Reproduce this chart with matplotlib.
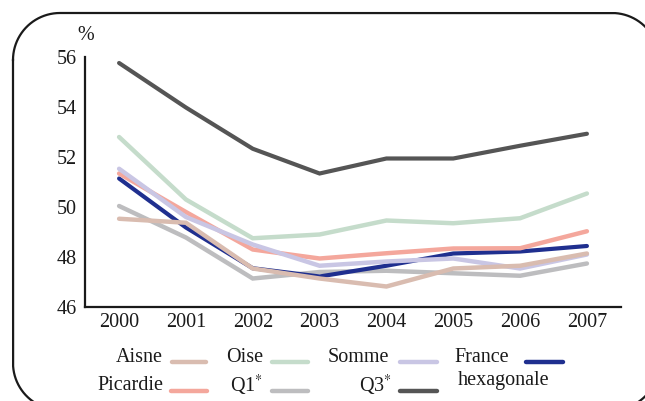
import matplotlib
matplotlib.use("Agg")
import numpy as np
import matplotlib.pyplot as plt
from matplotlib.lines import Line2D

plt.rcParams['font.family'] = ['Liberation Serif', 'DejaVu Serif']
plt.rcParams['mathtext.fontset'] = 'stix'
plt.rcParams['savefig.bbox'] = 'standard'

years = [2000, 2001, 2002, 2003, 2004, 2005, 2006, 2007]
q1 = [50.04, 48.78, 47.14, 47.40, 47.45, 47.35, 47.25, 47.74]
q3 = [55.76, 53.98, 52.33, 51.34, 51.94, 51.94, 52.45, 52.93]
oise = [52.80, 50.30, 48.75, 48.90, 49.46, 49.35, 49.55, 50.54]
france = [51.14, 49.18, 47.55, 47.22, 47.65, 48.14, 48.22, 48.44]
picardie = [51.34, 49.80, 48.30, 47.94, 48.15, 48.34, 48.35, 49.03]
somme = [51.53, 49.60, 48.50, 47.65, 47.82, 47.94, 47.54, 48.10]
aisne = [49.53, 49.37, 47.54, 47.14, 46.82, 47.54, 47.65, 48.14]

yticks = [46, 48, 50, 52, 54, 56]

c_q1 = '#bdbdbf'
c_q3 = '#555555'
c_oise = '#c5dccb'
c_france = '#1f2f8f'
c_picardie = '#f4a79c'
c_somme = '#c9c6e4'
c_aisne = '#d9bcb0'

W, H = 645, 401
fig = plt.figure(figsize=(W / 100, H / 100), dpi=100)

def fx(px):
    return np.asarray(px, dtype=float) / W

def fy(py):
    return 1 - np.asarray(py, dtype=float) / H

# rounded frame built in pixel space (y down); only the visible pieces are drawn
L, T, R, B, r = 13, 13, 659, 410, 47

def arc(cx, cy, a0, a1):
    a = np.radians(np.linspace(a0, a1, 300))
    x = cx + r * np.cos(a)
    y = cy + r * np.sin(a)
    keep = (x <= W + 1) & (y <= H + 1)
    return x[keep], y[keep]

pieces = []
x1, y1 = arc(L + r, T + r, 180, 270)
x2, y2 = arc(R - r, T + r, 270, 360)
pieces.append((np.concatenate([x1, x2]), np.concatenate([y1, y2])))
x3, y3 = arc(L + r, B - r, 180, 90)
pieces.append((np.concatenate([[L], x3]), np.concatenate([[T + r], y3])))
x4, y4 = arc(R - r, B - r, 0, 90)
if len(x4):
    pieces.append((x4, y4))
for xs, ys in pieces:
    ln = Line2D(fx(xs), fy(ys), transform=fig.transFigure,
                color='#1a1a1a', linewidth=1.6)
    ln.set_in_layout(False)
    fig.add_artist(ln)

ax = fig.add_axes([fx(85), fy(307), fx(621) - fx(85), fy(57) - fy(307)])
ax.set_xlim(1999.49, 2007.51)
ax.set_ylim(46, 56)

lw = 3.2
for vals, col, w in [(q1, c_q1, lw), (q3, c_q3, 3.0), (oise, c_oise, lw),
                     (france, c_france, 3.0), (picardie, c_picardie, lw),
                     (somme, c_somme, lw), (aisne, c_aisne, lw)]:
    ax.plot(years, vals, color=col, linewidth=w, solid_capstyle='round',
            solid_joinstyle='miter')

fs = 14.5
ax.set_xticks(years)
ax.set_xticklabels([str(y) for y in years])
ax.set_yticks(yticks)
ax.tick_params(axis='both', length=0, labelsize=fs, colors='#1a1a1a')
ax.tick_params(axis='y', pad=6)
ax.tick_params(axis='x', pad=4)
for s in ['top', 'right']:
    ax.spines[s].set_visible(False)
for s in ['left', 'bottom']:
    ax.spines[s].set_linewidth(1.6)
    ax.spines[s].set_color('#1a1a1a')
ax.patch.set_alpha(0)

fig.text(fx(86), fy(36), '%', ha='center', va='center', fontsize=fs, color='#1a1a1a')

# legend
entries = [
    ('Aisne', c_aisne, 163, 172, 206, 357, 362),
    ('Oise', c_oise, 263, 272, 308, 357, 362),
    ('Somme', c_somme, 389, 400, 437, 357, 362),
    ('Picardie', c_picardie, 163, 171, 207, 385, 391),
    ('Q1$^{*}$', c_q1, 263, 272, 308, 385, 391),
    ('Q3$^{*}$', c_q3, 392, 400, 437, 385, 391),
]
for label, col, tx, x0, x1, ty, ly in entries:
    fig.text(fx(tx), fy(ty), label, ha='right', va='center', fontsize=fs, color='#1a1a1a')
    fig.add_artist(Line2D([fx(x0), fx(x1)], [fy(ly), fy(ly)], transform=fig.transFigure,
                          color=col, linewidth=3.2, solid_capstyle='round'))
fig.text(fx(454), fy(357), 'France', ha='left', va='center', fontsize=fs, color='#1a1a1a')
fig.text(fx(458), fy(381), 'hexagonale', ha='left', va='center', fontsize=fs, color='#1a1a1a')
fig.add_artist(Line2D([fx(526), fx(563)], [fy(362), fy(362)], transform=fig.transFigure,
                      color=c_france, linewidth=3.2, solid_capstyle='round'))

fig.savefig('out.png', dpi=100)
